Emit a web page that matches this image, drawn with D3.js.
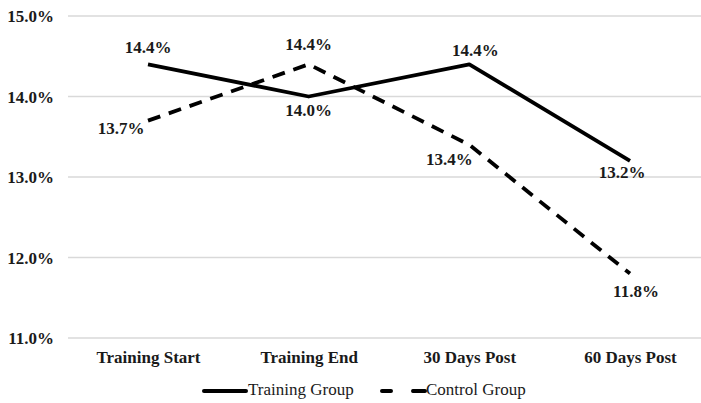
<!DOCTYPE html>
<html>
<head>
<meta charset="utf-8">
<script src="https://cdn.jsdelivr.net/npm/d3@7/dist/d3.min.js"></script>
<style>
  html, body { margin: 0; padding: 0; background: #fff; }
  svg { display: block; }
</style>
</head>
<body>
<svg id="chart" width="701" height="403"></svg>
<script>
// Time points and the two groups' percentages
const categories = ["Training Start", "Training End", "30 Days Post", "60 Days Post"];
const trainingGroup = [14.4, 14.0, 14.4, 13.2];
const controlGroup = [13.7, 14.4, 13.4, 11.8];
const yTicks = [11, 12, 13, 14, 15];
const seriesNames = ["Training Group", "Control Group"];

const svg = d3.select("#chart");
const font = "'Liberation Serif', 'Times New Roman', serif";

const x = d3.scalePoint().domain(categories).range([148, 630]);
const y = d3.scaleLinear().domain([11, 15]).range([338, 16]);
const fmt = v => v.toFixed(1) + "%";

// Horizontal gridlines
svg.append("g")
  .selectAll("line")
  .data(yTicks)
  .join("line")
  .attr("x1", 68).attr("x2", 701)
  .attr("y1", d => y(d)).attr("y2", d => y(d))
  .attr("stroke", "#d9d9d9").attr("stroke-width", 1.5);

// Y axis labels
const yAxis = d3.axisLeft(y).tickValues(yTicks).tickFormat(fmt).tickSize(0).tickPadding(0);
svg.append("g")
  .attr("transform", "translate(54,0)")
  .call(yAxis)
  .call(g => g.select(".domain").remove())
  .selectAll("text")
  .attr("font-family", font).attr("font-size", 17).attr("font-weight", "bold")
  .attr("fill", "#1a1a1a").attr("dy", "0.35em");

// X axis labels
const xAxis = d3.axisBottom(x).tickSize(0).tickPadding(0);
svg.append("g")
  .attr("transform", "translate(0,351)")
  .call(xAxis)
  .call(g => g.select(".domain").remove())
  .selectAll("text")
  .attr("font-family", font).attr("font-size", 17).attr("font-weight", "bold")
  .attr("fill", "#1a1a1a").attr("dy", "0.7em");

const line = d3.line().x((d, i) => x(categories[i])).y(d => y(d));

svg.append("path")
  .datum(controlGroup)
  .attr("d", line)
  .attr("fill", "none").attr("stroke", "#000").attr("stroke-width", 3.8)
  .attr("stroke-dasharray", "13,9").attr("stroke-linejoin", "round");

svg.append("path")
  .datum(trainingGroup)
  .attr("d", line)
  .attr("fill", "none").attr("stroke", "#000").attr("stroke-width", 3.8)
  .attr("stroke-linejoin", "round");

// Value labels: offsets relative to each point
const trainingOffsets = [[0, -15], [0, 16], [6, -12], [-8, 13]];
const controlOffsets = [[-27, 9], [0, -18], [-20, 16], [6, 19]];

function labels(values, offsets) {
  svg.append("g")
    .selectAll("text")
    .data(values)
    .join("text")
    .attr("x", (d, i) => x(categories[i]) + offsets[i][0])
    .attr("y", (d, i) => y(d) + offsets[i][1])
    .attr("text-anchor", "middle")
    .attr("dominant-baseline", "middle")
    .attr("font-family", font).attr("font-size", 17).attr("font-weight", "bold")
    .attr("fill", "#1a1a1a")
    .text(fmt);
}
labels(trainingGroup, trainingOffsets);
labels(controlGroup, controlOffsets);

// Legend
const legend = svg.append("g").attr("transform", "translate(0,391)");
legend.append("line")
  .attr("x1", 204).attr("x2", 246).attr("y1", 0).attr("y2", 0)
  .attr("stroke", "#000").attr("stroke-width", 4).attr("stroke-linecap", "round");
legend.append("text")
  .attr("x", 248).attr("y", 0).attr("dominant-baseline", "middle")
  .attr("font-family", font).attr("font-size", 17).attr("fill", "#1a1a1a")
  .text(seriesNames[0]);
legend.append("line")
  .attr("x1", 382).attr("x2", 425).attr("y1", 0).attr("y2", 0)
  .attr("stroke", "#000").attr("stroke-width", 4).attr("stroke-linecap", "round")
  .attr("stroke-dasharray", "9,22");
legend.append("line")
  .attr("x1", 414).attr("x2", 425).attr("y1", 0).attr("y2", 0)
  .attr("stroke", "#000").attr("stroke-width", 4).attr("stroke-linecap", "round");
legend.append("text")
  .attr("x", 426).attr("y", 0).attr("dominant-baseline", "middle")
  .attr("font-family", font).attr("font-size", 17).attr("fill", "#1a1a1a")
  .text(seriesNames[1]);
</script>
</body>
</html>
